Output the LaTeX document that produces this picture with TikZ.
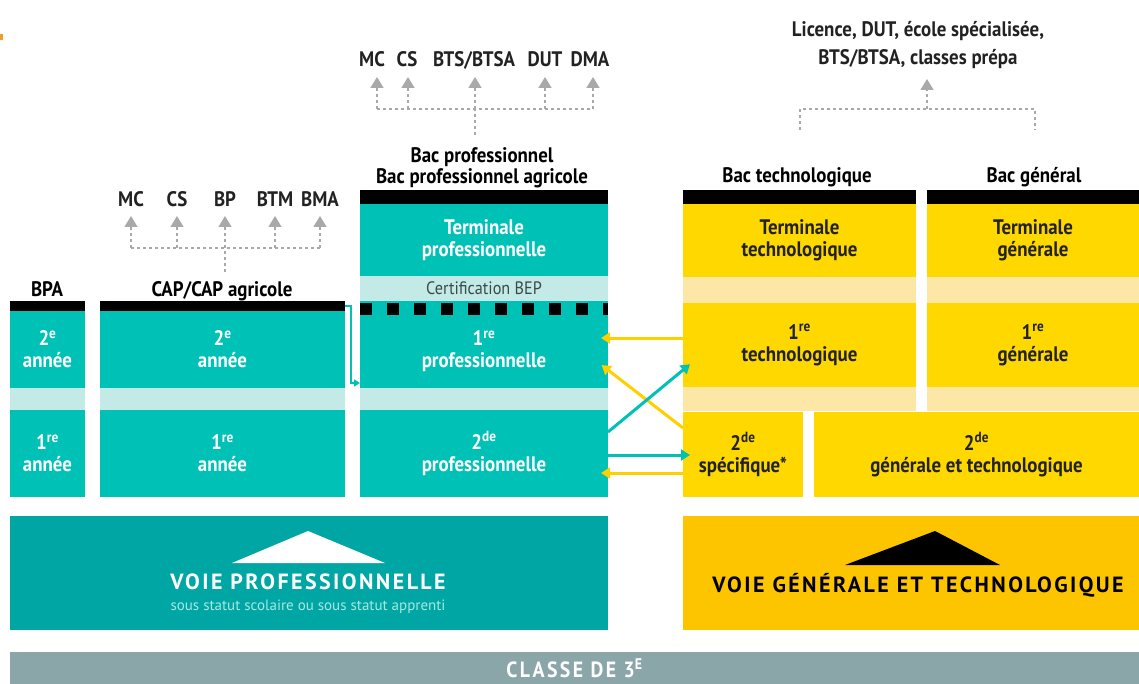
\documentclass[tikz,border=0pt]{standalone}
\usepackage{fontspec}
\setmainfont{PT Sans}
\newfontfamily\cf{PT Sans}[FakeStretch=0.9]
\usetikzlibrary{arrows.meta,calc}
\definecolor{tealA}{HTML}{00C1B6}
\definecolor{tealL}{HTML}{C3EAE6}
\definecolor{tealD}{HTML}{00A6A4}
\definecolor{tealT}{HTML}{A6E8E2}
\definecolor{yelA}{HTML}{FFD800}
\definecolor{yelL}{HTML}{FDE7A6}
\definecolor{yelD}{HTML}{FDC400}
\definecolor{greyA}{HTML}{A9A9A9}
\definecolor{greyBar}{HTML}{8BA6A9}
\definecolor{txtD}{HTML}{222222}
\definecolor{txtG}{HTML}{3A4A48}
\definecolor{orangeM}{HTML}{F0A020}
\begin{document}
\begin{tikzpicture}[x=1pt,y=-1pt,
  box/.style 2 args={anchor=north west, inner sep=0pt, outer sep=0pt, minimum width=#1pt, minimum height=#2pt, align=center},
  cfont/.style={font=\cf\bfseries\fontsize{21}{22}\selectfont},
  tcell/.style={cfont, fill=tealA, text=white},
  ycell/.style={cfont, fill=yelA, text=txtD},
  tband/.style={fill=tealL},
  yband/.style={fill=yelL},
  bar/.style={fill=black},
  lab/.style={cfont, text=black, inner sep=0pt, anchor=base},
  glab/.style={cfont, text=txtD, inner sep=0pt, anchor=base},
  gdot/.style={greyA, line width=1.6pt, dash pattern=on 3pt off 3pt},
  garr/.style={gdot, -{Triangle[width=13pt,length=11pt]}},
  tarr/.style={tealA, line width=3pt, -{Triangle[width=11pt,length=9pt]}},
  yarr/.style={yelA!90!orange, line width=3pt, -{Triangle[width=11pt,length=9pt]}},
  thinarr/.style={tealA, line width=1.5pt, -{Triangle[width=7pt,length=6pt]}},
  bigcap/.style={inner sep=0pt, font=\bfseries\fontsize{22}{24}\selectfont\addfontfeature{LetterSpace=11}}
]
\useasboundingbox (0,0) rectangle (1139,684);
\fill[orangeM] (0,34) rectangle (3,40);

% ---------- BPA column
\node[box={75}{10}, bar] (bpabar) at (10,301) {};
\node[box={75}{77}, tcell] (bpa2) at (10,311) {2\textsuperscript{e}\\année};
\node[box={75}{22}, tband] (bpab) at (10,388) {};
\node[box={75}{87}, tcell] (bpa1) at (10,410) {1\textsuperscript{re}\\année};
\node[lab] (bpal) at (47,297) {BPA};

% ---------- CAP column
\node[box={245}{10}, bar] (capbar) at (100,301) {};
\node[box={245}{77}, tcell] (cap2) at (100,311) {2\textsuperscript{e}\\année};
\node[box={245}{22}, tband] (capb) at (100,388) {};
\node[box={245}{87}, tcell] (cap1) at (100,410) {1\textsuperscript{re}\\année};
\node[lab] (capl) at (222,297) {CAP/CAP agricole};

% CAP tree
\node[glab] (c1) at (131,207) {MC};
\node[glab] (c2) at (177,207) {CS};
\node[glab] (c3) at (225,207) {BP};
\node[glab] (c4) at (275,207) {BTM};
\node[glab] (c5) at (320,207) {BMA};
\coordinate (cj) at (225,248);
\coordinate (cs) at (225,272);
\draw[gdot] (cs) -- (cj);
\draw[gdot] (c1 |- cj) -- (c5 |- cj);
\foreach \n in {c1,c2,c3,c4,c5} \draw[garr] (\n |- cj) -- ([yshift=-9pt]\n.base);

% ---------- Bac pro column
\node[box={248}{14}, bar] (probar) at (360,190) {};
\node[box={248}{72}, tcell] (prot) at (360,204) {Terminale\\professionnelle};
\node[box={248}{25}, tband, font=\cf\fontsize{18}{20}\selectfont, text=txtG] (probep) at (360,276) {Certification BEP};
\node[box={248}{14}, fill=tealA] (prodash) at (360,301) {};
\draw[black, line width=12pt, dash pattern=on 12pt off 15pt] ([yshift=-1pt]prodash.west) -- ([yshift=-1pt]prodash.east);
\node[box={248}{73}, tcell] (pro1) at (360,315) {1\textsuperscript{re}\\professionnelle};
\node[box={248}{22}, tband] (prob) at (360,388) {};
\node[box={248}{87}, tcell] (pro2) at (360,410) {2\textsuperscript{de}\\professionnelle};
\node[lab] (prol1) at (482,163) {Bac professionnel};
\node[lab] (prol2) at (482,184) {Bac professionnel agricole};

% Bac pro tree
\node[glab] (p1) at (372,67) {MC};
\node[glab] (p2) at (407,67) {CS};
\node[glab] (p3) at (474,67) {BTS/BTSA};
\node[glab] (p4) at (545,67) {DUT};
\node[glab] (p5) at (590,67) {DMA};
\coordinate (pj) at (475,109);
\coordinate (ps) at (475,135);
\draw[gdot] (ps) -- (pj);
\draw[gdot] (377,109) -- (593,109);
\draw[garr] (377,109) -- ([yshift=-10pt]p1.base -| 377,0);
\draw[garr] (408,109) -- ([yshift=-10pt]p2.base -| 408,0);
\draw[garr] (pj) -- ([yshift=-10pt]p3.base -| pj);
\draw[garr] (545,109) -- ([yshift=-10pt]p4.base -| 545,0);
\draw[garr] (593,109) -- ([yshift=-10pt]p5.base -| 593,0);

% ---------- Bac techno column
\node[box={233}{14}, bar] (tecbar) at (683,190) {};
\node[box={233}{73}, ycell] (tect) at (683,204) {Terminale\\technologique};
\node[box={233}{26}, yband] (tecb1) at (683,277) {};
\node[box={233}{84}, ycell] (tec1) at (683,303) {1\textsuperscript{re}\\technologique};
\node[box={233}{24}, yband] (tecb2) at (683,387) {};
\node[lab] (tecl) at (797,183) {Bac technologique};

% ---------- Bac général column
\node[box={212}{14}, bar] (genbar) at (927,190) {};
\node[box={212}{73}, ycell] (gent) at (927,204) {Terminale\\générale};
\node[box={212}{26}, yband] (genb1) at (927,277) {};
\node[box={212}{84}, ycell] (gen1) at (927,303) {1\textsuperscript{re}\\générale};
\node[box={212}{24}, yband] (genb2) at (927,387) {};
\node[lab] (genl) at (1034,183) {Bac général};

% 2de row yellow
\node[box={120}{85}, ycell] (spec) at (683,412) {2\textsuperscript{de}\\spécifique*};
\node[box={325}{85}, ycell] (gt) at (814,412) {2\textsuperscript{de}\\générale et technologique};

% right tree
\node[glab] (l1) at (918,37) {Licence, DUT, école spécialisée,};
\node[glab] (l2) at (918,65) {BTS/BTSA, classes prépa};
\coordinate (rj) at (927,109);
\coordinate (ra) at (800,130);
\coordinate (rb) at (1035,130);
\draw[gdot] (ra) |- (rj) -| (rb);
\draw[garr] (rj) -- ([yshift=-14pt]l2.base -| rj);

% ---------- connectors
\draw[thinarr] (capbar.east) -- ++(6,0) |- ([yshift=5pt]pro1.south west);
\draw[yarr, shorten >=-7pt] ($(tec1.north west)+(0,35)$) -- ($(pro1.north east)+(0,23)$);
\draw[yarr, shorten >=-8pt] ($(spec.north west)+(0,16)$) -- ($(pro1.south east)+(0,-18)$);
\draw[tarr, shorten >=-9pt] ($(pro2.north east)+(0,22)$) -- ($(tec1.south west)+(0,-17)$);
\draw[tarr, shorten >=-7pt] ($(pro2.north east)+(0,45)$) -- ($(spec.north west)+(0,43)$);
\draw[yarr, shorten >=-7pt] ($(spec.north west)+(0,61)$) -- ($(pro2.north east)+(0,63)$);

% ---------- bottom boxes
\node[box={598}{114}, fill=tealD] (voiep) at (10,516) {};
\fill[white] (232,563) -- (308,531) -- (385,563) -- cycle;
\node[bigcap, text=white] (vpt) at (308,582) {VOIE PROFESSIONNELLE};
\node[inner sep=0pt, text=tealT, font=\fontsize{15}{17}\selectfont] (vps) at (308,607) {sous statut scolaire ou sous statut apprenti};

\node[box={456}{114}, fill=yelD] (voieg) at (683,516) {};
\fill[black] (845,565) -- (935,531) -- (1000,565) -- cycle;
\node[bigcap, text=black] (vgt) at (918,585) {VOIE GÉNÉRALE ET TECHNOLOGIQUE};

\node[box={1129}{32}, fill=greyBar, text=white, font=\cf\bfseries\fontsize{22}{24}\selectfont\addfontfeature{LetterSpace=11}] (trois) at (10,652) {CLASSE DE 3\textsuperscript{E}};
\end{tikzpicture}
\end{document}
